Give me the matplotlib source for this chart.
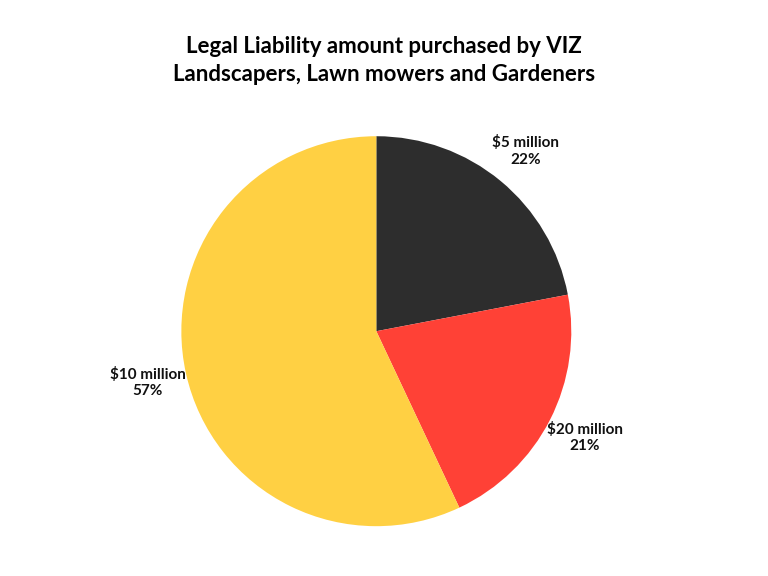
import matplotlib.pyplot as plt

plt.rcParams["font.family"] = ["Lato", "DejaVu Sans"]

labels = ["\\$5 million", "\\$20 million", "\\$10 million"]
shares = [22, 21, 57]
colors = ["#2d2d2d", "#ff4136", "#ffd043"]

fig = plt.figure(figsize=(7.68, 5.76), dpi=100)
ax = fig.add_axes([0.49 - 0.254, 0.425 - 0.3385, 0.508, 0.677])

texts = [f"{l}\n{s}%" for l, s in zip(labels, shares)]
ax.pie(shares, labels=texts, colors=colors, startangle=90, counterclock=False,
       labeldistance=1.2,
       textprops={"ha": "center", "va": "center", "fontsize": 11,
                  "fontweight": "bold", "color": "#111111"})
ax.set_xlim(-1, 1)
ax.set_ylim(-1, 1)
ax.set_aspect("equal")

fig.text(0.5, 0.895, "Legal Liability amount purchased by VIZ\nLandscapers, Lawn mowers and Gardeners",
         ha="center", va="center", fontsize=16, fontweight="bold", linespacing=1.45)

fig.savefig("out.png", dpi=100)
